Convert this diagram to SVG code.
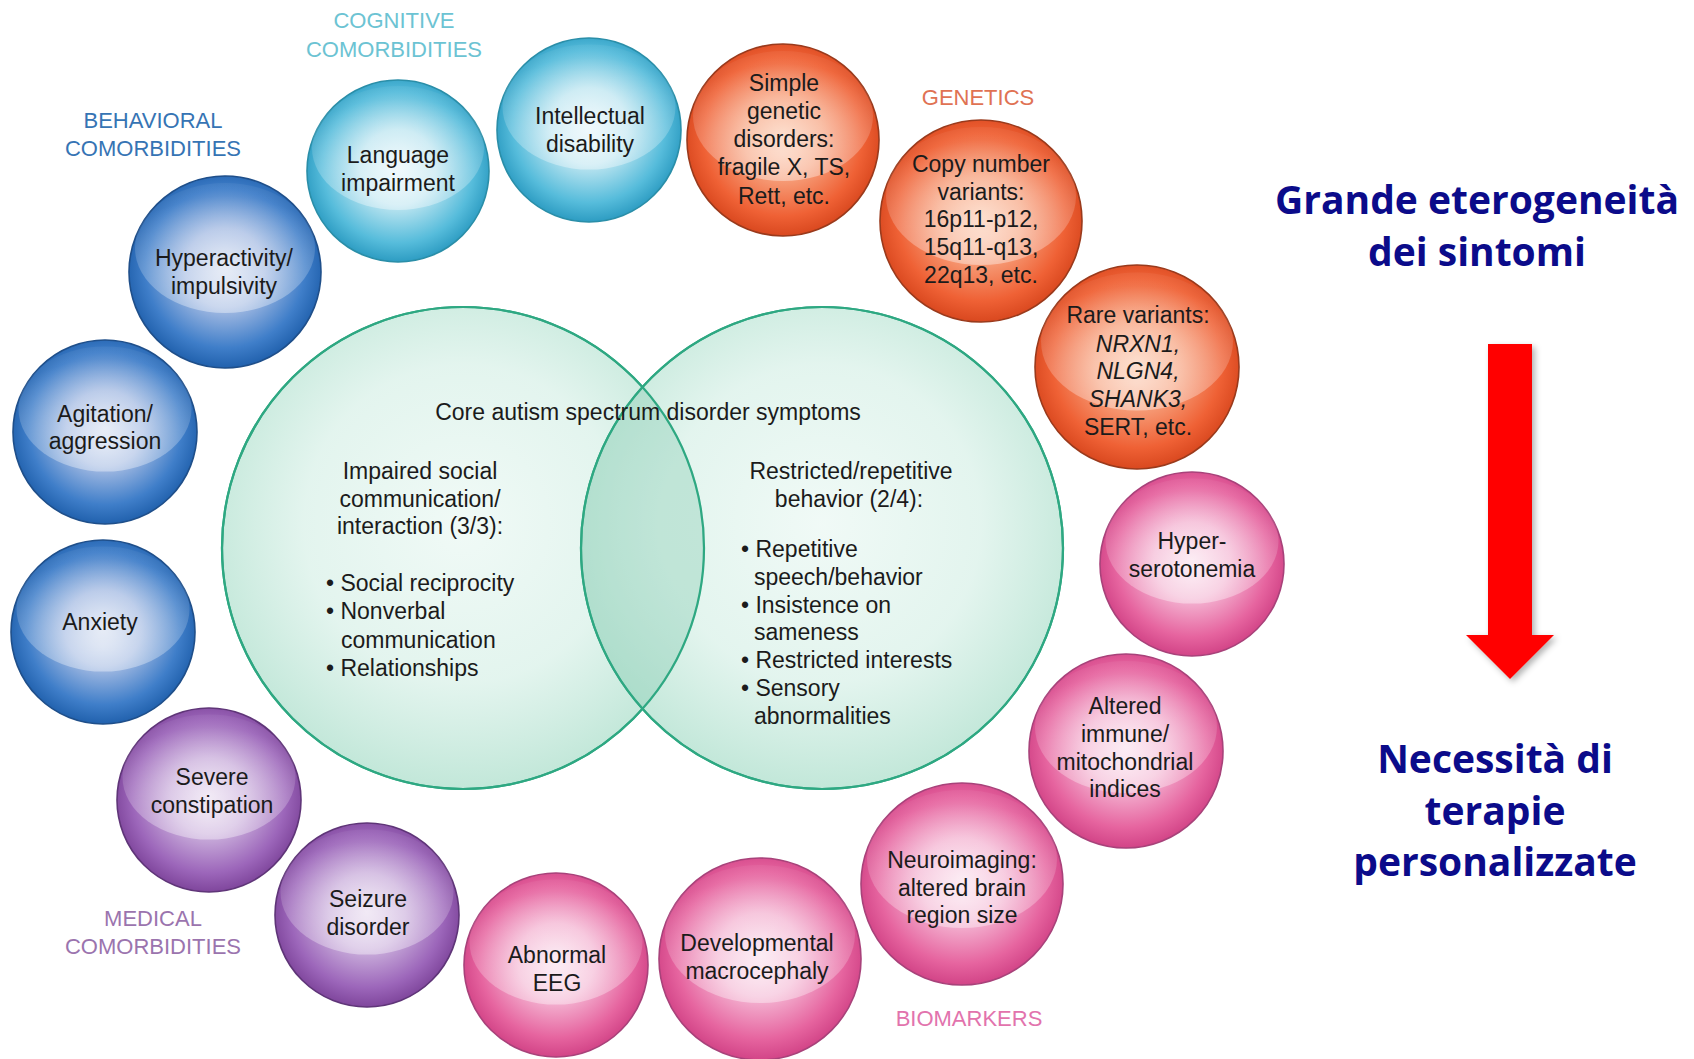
<svg xmlns="http://www.w3.org/2000/svg" width="1694" height="1059" viewBox="0 0 1694 1059">
  <defs>
    <style>
      .lbl{font-family:"Liberation Sans",Arial,sans-serif;font-size:23px;fill:#1b1b1b;text-anchor:middle}
      .lt{text-anchor:start}
      .it{font-style:italic}
      .cat{font-family:"Liberation Sans",Arial,sans-serif;font-size:22px;text-anchor:middle}
      .cog{fill:#6cc3d3}
      .beh{fill:#3674b4}
      .gen{fill:#e07253}
      .med{fill:#9b74ae}
      .bio{fill:#e273ad}
      .big{font-family:"Open Sans","Noto Sans",sans-serif;font-weight:700;font-size:39px;fill:#0b0b8a;text-anchor:middle}
      .cyan{fill:url(#gCyan);stroke:#2a8ea8;stroke-width:1.6}
      .blue{fill:url(#gBlue);stroke:#1f4f8a;stroke-width:1.6}
      .orange{fill:url(#gOrange);stroke:#9a3a1c;stroke-width:1.6}
      .pink{fill:url(#gPink);stroke:#a8427a;stroke-width:1.6}
      .purple{fill:url(#gPurple);stroke:#5f3578;stroke-width:1.6}
      .hl{fill:url(#gHl)}
      .venn{fill:url(#gVenn);stroke:#2ea882;stroke-width:2.2}
    </style>
    <radialGradient id="gCyan" cx="50%" cy="48%" r="52%">
      <stop offset="0" stop-color="#e6f5fa"/>
      <stop offset="0.4" stop-color="#bfe6f1"/>
      <stop offset="0.8" stop-color="#56bcdb"/>
      <stop offset="1" stop-color="#2d9cc2"/>
    </radialGradient>
    <radialGradient id="gBlue" cx="50%" cy="48%" r="52%">
      <stop offset="0" stop-color="#d6dff0"/>
      <stop offset="0.4" stop-color="#a6bce3"/>
      <stop offset="0.8" stop-color="#3f7ec9"/>
      <stop offset="1" stop-color="#2161ad"/>
    </radialGradient>
    <radialGradient id="gOrange" cx="50%" cy="48%" r="52%">
      <stop offset="0" stop-color="#fbc7ab"/>
      <stop offset="0.4" stop-color="#f7a27e"/>
      <stop offset="0.8" stop-color="#ef6135"/>
      <stop offset="1" stop-color="#d9481f"/>
    </radialGradient>
    <radialGradient id="gPink" cx="50%" cy="48%" r="52%">
      <stop offset="0" stop-color="#fadfec"/>
      <stop offset="0.4" stop-color="#f4b6d3"/>
      <stop offset="0.8" stop-color="#e6649f"/>
      <stop offset="1" stop-color="#d24487"/>
    </radialGradient>
    <radialGradient id="gPurple" cx="50%" cy="48%" r="52%">
      <stop offset="0" stop-color="#e8dbef"/>
      <stop offset="0.4" stop-color="#cbb0dc"/>
      <stop offset="0.8" stop-color="#9c66ba"/>
      <stop offset="1" stop-color="#7f469c"/>
    </radialGradient>
    <radialGradient id="gHl" cx="50%" cy="80%" r="70%">
      <stop offset="0" stop-color="#fff" stop-opacity="0.5"/>
      <stop offset="0.6" stop-color="#fff" stop-opacity="0.25"/>
      <stop offset="1" stop-color="#fff" stop-opacity="0.05"/>
    </radialGradient>
    <radialGradient id="gVenn" cx="50%" cy="45%" r="55%">
      <stop offset="0" stop-color="#eef9f5" stop-opacity="0.85"/>
      <stop offset="0.6" stop-color="#dcf2ea" stop-opacity="0.8"/>
      <stop offset="1" stop-color="#b7e3d2" stop-opacity="0.85"/>
    </radialGradient>
    <filter id="shadow" x="-30%" y="-10%" width="160%" height="130%">
      <feDropShadow dx="3" dy="3" stdDeviation="3" flood-color="#000" flood-opacity="0.3"/>
    </filter>
  </defs>

  <rect width="1694" height="1059" fill="#ffffff"/>

  <!-- Core symptoms Venn diagram -->
  <g id="core-venn">
    <circle class="venn" cx="463" cy="548" r="241"/>
    <circle class="venn" cx="822" cy="548" r="241"/>
    <path d="M642.5,387.2 A241,241 0 0 1 642.5,708.8 A241,241 0 0 1 642.5,387.2 Z" fill="#8fcfb6" fill-opacity="0.35"/>
    <circle cx="463" cy="548" r="241" fill="none" stroke="#2ea882" stroke-width="2.2"/>
    <circle cx="822" cy="548" r="241" fill="none" stroke="#2ea882" stroke-width="2.2"/>
    <text class="lbl" x="648" y="420">Core autism spectrum disorder symptoms</text>
  </g>

  <g id="social-communication">
    <text class="lbl" x="420" y="479">Impaired social</text>
    <text class="lbl" x="420" y="507">communication/</text>
    <text class="lbl" x="420" y="534">interaction (3/3):</text>
    <text class="lbl lt" x="326" y="591">• Social reciprocity</text>
    <text class="lbl lt" x="326" y="619">• Nonverbal</text>
    <text class="lbl lt" x="341" y="648">communication</text>
    <text class="lbl lt" x="326" y="676">• Relationships</text>
  </g>

  <g id="restricted-behavior">
    <text class="lbl" x="851" y="479">Restricted/repetitive</text>
    <text class="lbl" x="849" y="507">behavior (2/4):</text>
    <text class="lbl lt" x="741" y="557">• Repetitive</text>
    <text class="lbl lt" x="754" y="585">speech/behavior</text>
    <text class="lbl lt" x="741" y="613">• Insistence on</text>
    <text class="lbl lt" x="754" y="640">sameness</text>
    <text class="lbl lt" x="741" y="668">• Restricted interests</text>
    <text class="lbl lt" x="741" y="696">• Sensory</text>
    <text class="lbl lt" x="754" y="724">abnormalities</text>
  </g>

  <!-- Category headings -->
  <g id="category-labels">
    <text class="cat cog" x="394" y="28">COGNITIVE</text>
    <text class="cat cog" x="394" y="57">COMORBIDITIES</text>
    <text class="cat beh" x="153" y="128">BEHAVIORAL</text>
    <text class="cat beh" x="153" y="156">COMORBIDITIES</text>
    <text class="cat gen" x="978" y="105">GENETICS</text>
    <text class="cat med" x="153" y="926">MEDICAL</text>
    <text class="cat med" x="153" y="954">COMORBIDITIES</text>
    <text class="cat bio" x="969" y="1026">BIOMARKERS</text>
  </g>

  <!-- Cognitive comorbidities -->
  <g id="language-impairment">
    <circle class="cyan" cx="398" cy="171" r="91"/>
    <ellipse class="hl" cx="398" cy="148" rx="86" ry="62"/>
    <text class="lbl" x="398" y="163">Language</text>
    <text class="lbl" x="398" y="191">impairment</text>
  </g>
  <g id="intellectual-disability">
    <circle class="cyan" cx="589" cy="130" r="92"/>
    <ellipse class="hl" cx="589" cy="107" rx="86.5" ry="62.6"/>
    <text class="lbl" x="590" y="124">Intellectual</text>
    <text class="lbl" x="590" y="152">disability</text>
  </g>

  <!-- Genetics -->
  <g id="simple-genetic">
    <circle class="orange" cx="783" cy="140" r="96"/>
    <ellipse class="hl" cx="783" cy="116" rx="90" ry="65"/>
    <text class="lbl" x="784" y="91">Simple</text>
    <text class="lbl" x="784" y="119">genetic</text>
    <text class="lbl" x="784" y="147">disorders:</text>
    <text class="lbl" x="784" y="175">fragile X, TS,</text>
    <text class="lbl" x="784" y="204">Rett, etc.</text>
  </g>
  <g id="copy-number">
    <circle class="orange" cx="981" cy="221" r="101"/>
    <ellipse class="hl" cx="981" cy="196" rx="95" ry="69"/>
    <text class="lbl" x="981" y="172">Copy number</text>
    <text class="lbl" x="981" y="200">variants:</text>
    <text class="lbl" x="981" y="227">16p11-p12,</text>
    <text class="lbl" x="981" y="255">15q11-q13,</text>
    <text class="lbl" x="981" y="283">22q13, etc.</text>
  </g>
  <g id="rare-variants">
    <circle class="orange" cx="1137" cy="367" r="102"/>
    <ellipse class="hl" cx="1137" cy="341.5" rx="96" ry="69"/>
    <text class="lbl" x="1138" y="323">Rare variants:</text>
    <text class="lbl it" x="1138" y="352">NRXN1,</text>
    <text class="lbl it" x="1138" y="379">NLGN4,</text>
    <text class="lbl it" x="1138" y="407">SHANK3,</text>
    <text class="lbl" x="1138" y="435">SERT, etc.</text>
  </g>

  <!-- Biomarkers -->
  <g id="hyperserotonemia">
    <circle class="pink" cx="1192" cy="564" r="92"/>
    <ellipse class="hl" cx="1192" cy="541" rx="86.5" ry="62.6"/>
    <text class="lbl" x="1192" y="549">Hyper-</text>
    <text class="lbl" x="1192" y="577">serotonemia</text>
  </g>
  <g id="immune-mitochondrial">
    <circle class="pink" cx="1126" cy="751" r="97"/>
    <ellipse class="hl" cx="1126" cy="727" rx="91" ry="66"/>
    <text class="lbl" x="1125" y="714">Altered</text>
    <text class="lbl" x="1125" y="742">immune/</text>
    <text class="lbl" x="1125" y="770">mitochondrial</text>
    <text class="lbl" x="1125" y="797">indices</text>
  </g>
  <g id="neuroimaging">
    <circle class="pink" cx="962" cy="884" r="101"/>
    <ellipse class="hl" cx="962" cy="859" rx="95" ry="69"/>
    <text class="lbl" x="962" y="868">Neuroimaging:</text>
    <text class="lbl" x="962" y="896">altered brain</text>
    <text class="lbl" x="962" y="923">region size</text>
  </g>
  <g id="macrocephaly">
    <circle class="pink" cx="760" cy="959" r="101"/>
    <ellipse class="hl" cx="760" cy="934" rx="95" ry="69"/>
    <text class="lbl" x="757" y="951">Developmental</text>
    <text class="lbl" x="757" y="979">macrocephaly</text>
  </g>
  <g id="abnormal-eeg">
    <circle class="pink" cx="556" cy="965" r="92"/>
    <ellipse class="hl" cx="556" cy="942" rx="86.5" ry="62.6"/>
    <text class="lbl" x="557" y="963">Abnormal</text>
    <text class="lbl" x="557" y="991">EEG</text>
  </g>

  <!-- Medical comorbidities -->
  <g id="seizure-disorder">
    <circle class="purple" cx="367" cy="915" r="92"/>
    <ellipse class="hl" cx="367" cy="892" rx="86.5" ry="62.6"/>
    <text class="lbl" x="368" y="907">Seizure</text>
    <text class="lbl" x="368" y="935">disorder</text>
  </g>
  <g id="severe-constipation">
    <circle class="purple" cx="209" cy="800" r="92"/>
    <ellipse class="hl" cx="209" cy="777" rx="86.5" ry="62.6"/>
    <text class="lbl" x="212" y="785">Severe</text>
    <text class="lbl" x="212" y="813">constipation</text>
  </g>

  <!-- Behavioral comorbidities -->
  <g id="anxiety">
    <circle class="blue" cx="103" cy="632" r="92"/>
    <ellipse class="hl" cx="103" cy="609" rx="86.5" ry="62.6"/>
    <text class="lbl" x="100" y="630">Anxiety</text>
  </g>
  <g id="agitation-aggression">
    <circle class="blue" cx="105" cy="432" r="92"/>
    <ellipse class="hl" cx="105" cy="409" rx="86.5" ry="62.6"/>
    <text class="lbl" x="105" y="422">Agitation/</text>
    <text class="lbl" x="105" y="449">aggression</text>
  </g>
  <g id="hyperactivity-impulsivity">
    <circle class="blue" cx="225" cy="272" r="96"/>
    <ellipse class="hl" cx="225" cy="248" rx="90" ry="65"/>
    <text class="lbl" x="224" y="266">Hyperactivity/</text>
    <text class="lbl" x="224" y="294">impulsivity</text>
  </g>

  <!-- Side message with downward arrow -->
  <g id="heterogeneity">
    <text class="big" x="1477" y="214">Grande eterogeneità</text>
    <text class="big" x="1477" y="266">dei sintomi</text>
  </g>
  <g id="connectors">
    <path d="M1488,344 H1532 V635 H1554 L1510,679 L1466,635 H1488 Z" fill="#ff0000" filter="url(#shadow)"/>
  </g>
  <g id="personalised-therapy">
    <text class="big" x="1495" y="773">Necessità di</text>
    <text class="big" x="1495" y="825">terapie</text>
    <text class="big" x="1495" y="876">personalizzate</text>
  </g>
</svg>
